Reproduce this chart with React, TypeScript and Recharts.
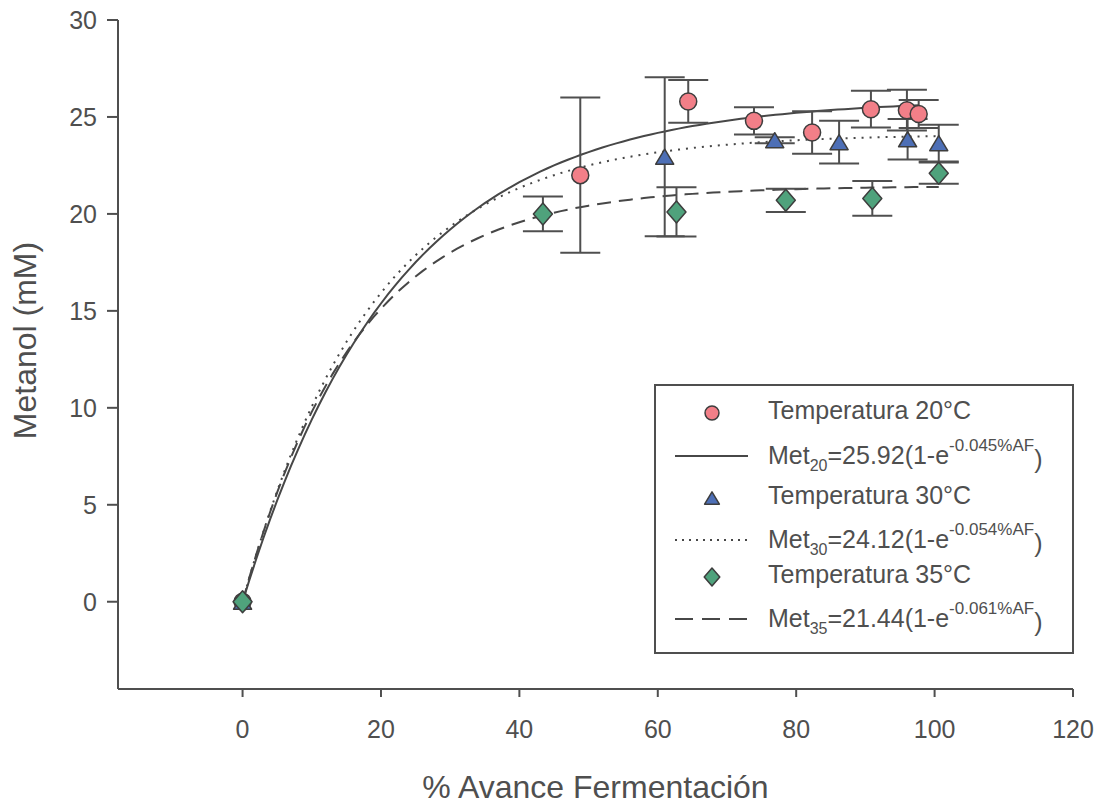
import React from 'react';
import { ComposedChart, Line, Scatter, ErrorBar, XAxis, YAxis } from 'recharts';

// % fermentation progress, methanol (mM) and error for each temperature
const x20 = [0, 48.8, 64.4, 73.9, 82.3, 90.8, 96.0, 97.7];
const met20 = [0, 22.0, 25.8, 24.8, 24.2, 25.4, 25.35, 25.15];
const err20 = [0, 4.0, 1.1, 0.7, 1.1, 0.95, 1.05, 0.72];

const x30 = [0, 61.0, 76.9, 86.2, 96.1, 100.6];
const met30 = [0, 22.95, 23.8, 23.7, 23.85, 23.65];
const err30 = [0, 4.1, 0.15, 1.1, 1.05, 0.95];

const x35 = [0, 43.4, 62.7, 78.5, 91.0, 100.6];
const met35 = [0, 20.0, 20.1, 20.7, 20.8, 22.1];
const err35 = [0, 0.9, 1.27, 0.6, 0.9, 0.55];

// fitted model Met = A(1 - e^(-k %AF))
const fitA = [25.92, 24.12, 21.44];
const fitK = [0.045, 0.054, 0.061];
const fitLabels = ['25.92', '24.12', '21.44'];
const fitRates = ['-0.045', '-0.054', '-0.061'];
const tempLabels = ['20', '30', '35'];

const xTicks = [0, 20, 40, 60, 80, 100, 120];
const yTicks = [0, 5, 10, 15, 20, 25, 30];

const FONT = "'Liberation Sans', Arial, Helvetica, sans-serif";
const INK = '#4f4f4f';
const LINE = '#474747';
const EDGE = '#3d3d3d';

const toPoints = (xs: number[], ys: number[], es: number[]) =>
  xs.map((x, i) => ({ x, y: ys[i], err: es[i] }));

const fitCurve = (a: number, k: number, xMax: number) => {
  const pts: { x: number; y: number }[] = [];
  for (let x = 0; x < xMax; x += 1) pts.push({ x, y: a * (1 - Math.exp(-k * x)) });
  pts.push({ x: xMax, y: a * (1 - Math.exp(-k * xMax)) });
  return pts;
};

type MarkerKind = 'circle' | 'triangle' | 'diamond';

const Marker = ({ kind, cx, cy, s = 1, fill }: { kind: MarkerKind; cx: number; cy: number; s?: number; fill: string }) => {
  if (kind === 'circle') {
    return <circle cx={cx} cy={cy} r={8.5 * s} fill={fill} stroke={EDGE} strokeWidth={1.5} />;
  }
  if (kind === 'triangle') {
    const w = 9 * s;
    const h = 7.5 * s;
    return (
      <polygon
        points={`${cx},${cy - h} ${cx + w},${cy + h} ${cx - w},${cy + h}`}
        fill={fill}
        stroke={EDGE}
        strokeWidth={1.5}
        strokeLinejoin="round"
      />
    );
  }
  const w = 9.5 * s;
  const h = 11 * s;
  return (
    <polygon
      points={`${cx},${cy - h} ${cx + w},${cy} ${cx},${cy + h} ${cx - w},${cy}`}
      fill={fill}
      stroke={EDGE}
      strokeWidth={1.5}
      strokeLinejoin="round"
    />
  );
};

const series = [
  { key: 't20', kind: 'circle' as MarkerKind, fill: '#f27f88', dash: undefined, legendDash: undefined, points: toPoints(x20, met20, err20), xMax: Math.max(...x20) },
  { key: 't30', kind: 'triangle' as MarkerKind, fill: '#4d6fb6', dash: '2 6', legendDash: '2 5', points: toPoints(x30, met30, err30), xMax: Math.max(...x30) },
  { key: 't35', kind: 'diamond' as MarkerKind, fill: '#4fa27c', dash: '14 8', legendDash: '18 9', points: toPoints(x35, met35, err35), xMax: Math.max(...x35) },
].map((s, i) => ({
  ...s,
  temp: tempLabels[i],
  amp: fitLabels[i],
  rate: fitRates[i],
  curve: fitCurve(fitA[i], fitK[i], s.xMax),
}));

// legend rows: marker row then fitted-line row for each temperature
const legendMarkerY = [413, 498, 577];
const legendLineY = [456, 540, 619];

function LegendBox() {
  const fs = 25;
  return (
    <svg width={1102} height={806} style={{ position: 'absolute', left: 0, top: 0, pointerEvents: 'none' }}>
      <rect x={655} y={385} width={418} height={268} fill="#fff" stroke={INK} strokeWidth={2} />
      {series.map((s, i) => (
        <g key={s.key} fontFamily={FONT} fill={INK}>
          <Marker kind={s.kind} cx={712} cy={legendMarkerY[i]} s={0.82} fill={s.fill} />
          <text x={768} y={legendMarkerY[i] + 6} fontSize={fs}>
            {`Temperatura ${s.temp}°C`}
          </text>
          <line
            x1={675}
            x2={748}
            y1={legendLineY[i]}
            y2={legendLineY[i]}
            stroke={LINE}
            strokeWidth={1.8}
            strokeDasharray={s.legendDash}
          />
          <text x={768} y={legendLineY[i] + 8} fontSize={fs}>
            Met
            <tspan fontSize={16} dy={7}>{s.temp}</tspan>
            <tspan fontSize={fs} dy={-7}>{`=${s.amp}(1-e`}</tspan>
            <tspan fontSize={17} dy={-13}>{`${s.rate}%AF`}</tspan>
            <tspan fontSize={fs} dy={17}>)</tspan>
          </text>
        </g>
      ))}
    </svg>
  );
}

export default function App() {
  const tickStyle = { fill: INK, fontSize: 25, fontFamily: FONT };
  return (
    <div style={{ position: 'absolute', left: 0, top: 0, width: 1102, height: 806, background: '#fff' }}>
      <ComposedChart width={1102} height={806} margin={{ top: 20, right: 29, bottom: 6, left: 0 }}>
        <XAxis
          dataKey="x"
          type="number"
          domain={[-18, 120]}
          ticks={xTicks}
          allowDataOverflow
          height={111}
          tickSize={8}
          tickMargin={23}
          stroke={INK}
          strokeWidth={2}
          tick={tickStyle}
          label={{
            value: '% Avance Fermentación',
            position: 'insideBottom',
            offset: 2,
            fill: INK,
            fontSize: 32,
            fontFamily: FONT,
          }}
        />
        <YAxis
          type="number"
          domain={[-4.5, 30]}
          ticks={yTicks}
          allowDataOverflow
          width={118}
          tickSize={11}
          tickMargin={10}
          stroke={INK}
          strokeWidth={2}
          tick={tickStyle}
          label={{
            value: 'Metanol (mM)',
            angle: -90,
            position: 'insideLeft',
            offset: 25,
            dy: -14,
            fill: INK,
            fontSize: 32,
            fontFamily: FONT,
            style: { textAnchor: 'middle' },
          }}
        />
        {series.map((s) => (
          <Line
            key={`fit-${s.key}`}
            data={s.curve}
            dataKey="y"
            type="linear"
            dot={false}
            activeDot={false}
            stroke={LINE}
            strokeWidth={2}
            strokeDasharray={s.dash}
            isAnimationActive={false}
          />
        ))}
        {series.map((s) => (
          <Scatter
            key={s.key}
            data={s.points}
            dataKey="y"
            isAnimationActive={false}
            shape={(p: any) => <Marker kind={s.kind} cx={p.cx} cy={p.cy} fill={s.fill} />}
          >
            <ErrorBar dataKey="err" direction="y" width={20} stroke={INK} strokeWidth={2} isAnimationActive={false} />
          </Scatter>
        ))}
      </ComposedChart>
      <LegendBox />
    </div>
  );
}
